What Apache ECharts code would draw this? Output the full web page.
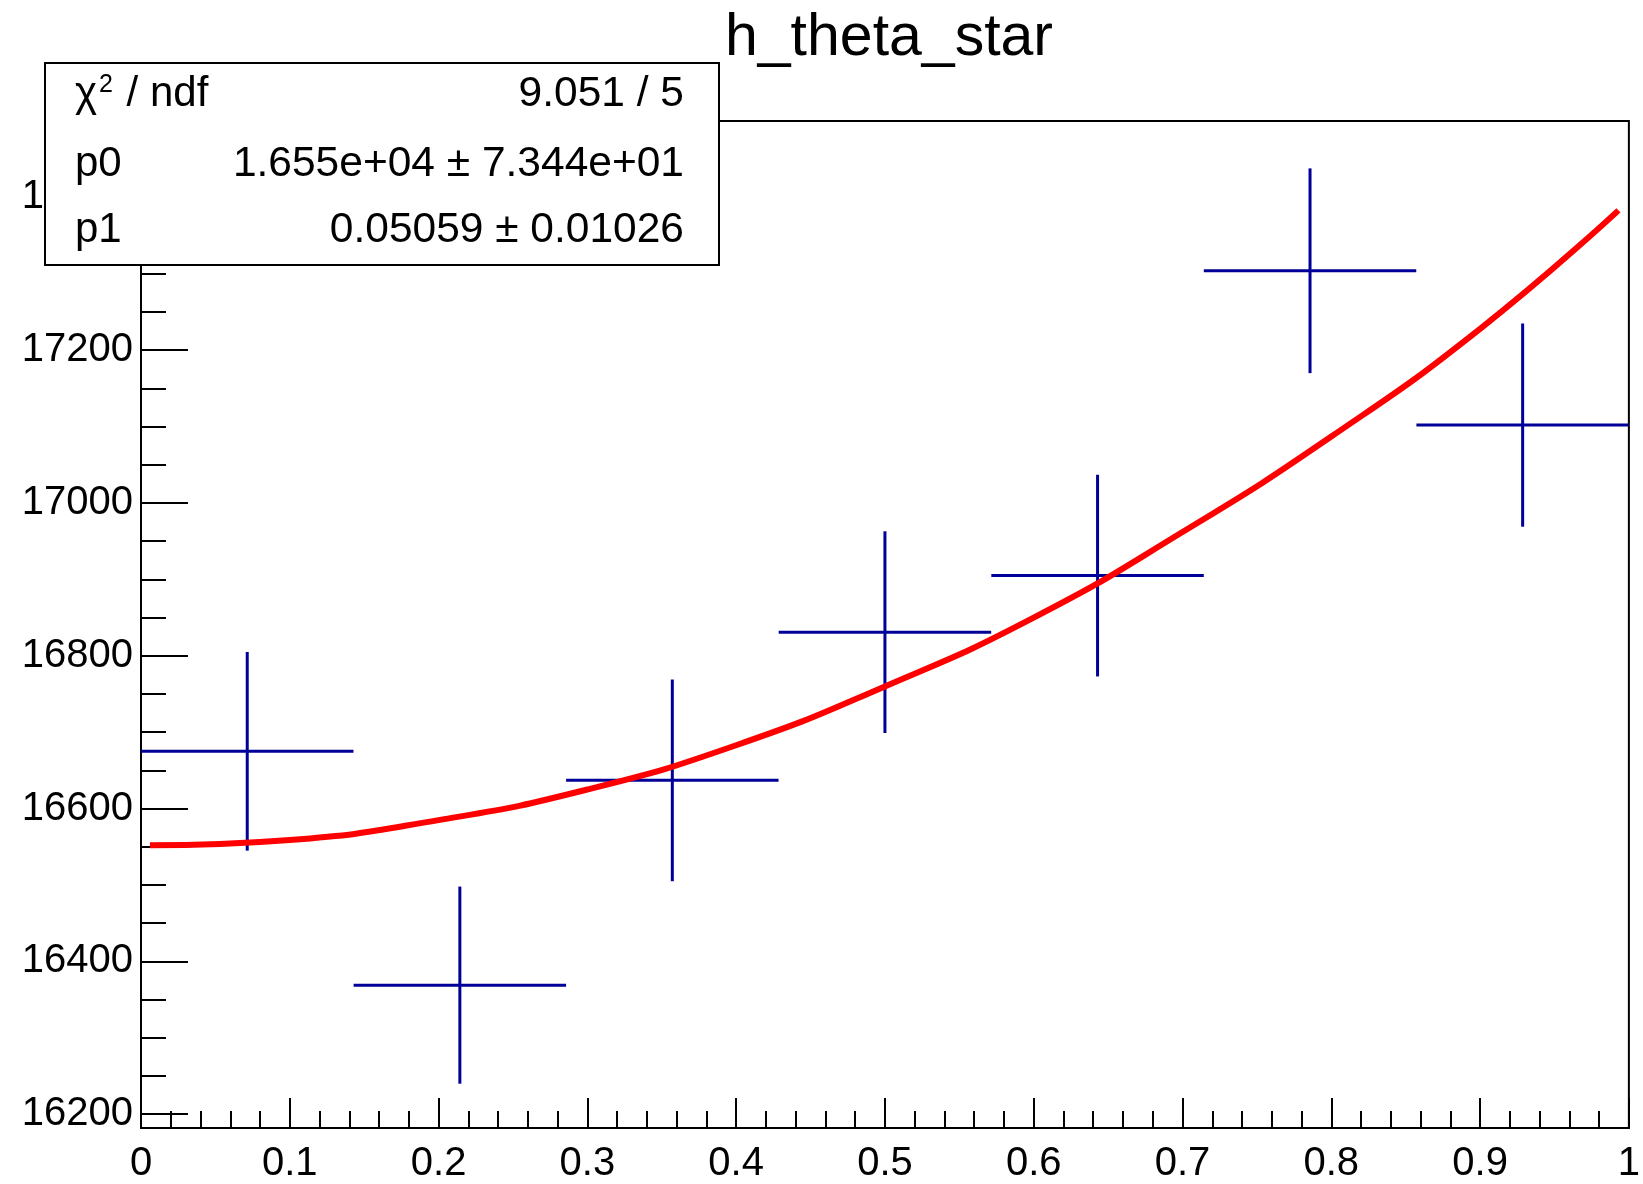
<!DOCTYPE html>
<html>
<head>
<meta charset="utf-8">
<title>h_theta_star</title>
<script src="https://cdn.jsdelivr.net/npm/echarts@6.0.0/dist/echarts.min.js"></script>
<style>
  html, body { margin: 0; padding: 0; background: #fff; }
  #chart { width: 1643px; height: 1184px; }
</style>
</head>
<body>
<div id="chart"></div>
<script>
// histogram: 7 bins over 0..1
const binCenters = [0.0714, 0.2143, 0.3571, 0.5, 0.6429, 0.7857, 0.9286]
const binHalfWidth = [0.0714, 0.0714, 0.0714, 0.0714, 0.0714, 0.0714, 0.0714]
const binContents = [16675, 16369, 16637, 16831, 16905, 17304, 17102]
const binErrors = [130, 129, 132, 132, 132, 134, 133]

// red fit curve
const fitX = [0.006, 0.1, 0.2, 0.3, 0.4, 0.5, 0.6, 0.7, 0.8, 0.9, 0.993]
const fitY = [16552, 16559, 16585, 16625, 16683, 16760, 16850, 16962, 17087, 17228, 17383]

// axes
const yMajorTicks = [16200, 16400, 16600, 16800, 17000, 17200, 17400]
const yRange = [16182, 17500]

// stat box
const statLabels = ['{a|χ}{s|2}{a| / ndf}', 'p0', 'p1']
const statValues = ['9.051 / 5', '1.655e+04 ± 7.344e+01', '0.05059 ± 0.01026']

const FONT = '"Liberation Sans", Arial, Helvetica, sans-serif'

// minor tick positions between min and max
const steps = (from, to, step) => {
  const out = []
  for (let v = from; v <= to + 1e-9; v += step) out.push(Math.round(v * 1000) / 1000)
  return out
}

const chart = echarts.init(document.getElementById('chart'))

const errData = binCenters.map((c, i) => [c, binContents[i], binErrors[i], binHalfWidth[i]])

const statGraphics = []
const rowY = [94, 164, 230]
statLabels.forEach((t, i) => {
  statGraphics.push({
    type: 'text',
    x: 75,
    y: rowY[i],
    z: 101,
    style: {
      text: t,
      font: `42px ${FONT}`,
      fill: '#000',
      verticalAlign: 'middle',
      rich: {
        a: { fontSize: 42, fontFamily: FONT, fill: '#000' },
        s: { fontSize: 25, fontFamily: FONT, fill: '#000', verticalAlign: 'top', padding: [0, 2, 18, 2] },
      },
    },
  })
  statGraphics.push({
    type: 'text',
    x: 684,
    y: rowY[i],
    z: 101,
    style: {
      text: statValues[i],
      font: `42.5px ${FONT}`,
      fill: '#000',
      align: 'right',
      verticalAlign: 'middle',
    },
  })
})

const option = {
  animation: false,
  backgroundColor: '#fff',
  title: {
    text: 'h_theta_star',
    left: 884,
    top: 4,
    textAlign: 'center',
    textStyle: { fontFamily: FONT, fontSize: 59, fontWeight: 'normal', color: '#000' },
  },
  grid: {
    left: 141,
    right: 8,
    top: 121,
    bottom: 51,
    show: true,
    borderColor: '#000',
    borderWidth: 2,
    backgroundColor: 'transparent',
  },
  xAxis: {
    type: 'value',
    min: 0,
    max: 1,
    interval: 0.1,
    axisLine: { show: true, onZero: false, lineStyle: { color: '#000', width: 2 } },
    axisTick: { show: true, inside: true, length: 30, lineStyle: { color: '#000', width: 2 } },
    minorTick: { show: true, splitNumber: 5, length: 17, lineStyle: { color: '#000', width: 2 } },
    splitLine: { show: false },
    axisLabel: { fontFamily: FONT, fontSize: 40, color: '#000', margin: 16 },
  },
  yAxis: [
    {
      type: 'value',
      min: yRange[0],
      max: yRange[1],
      axisLine: { show: true, onZero: false, lineStyle: { color: '#000', width: 2 } },
      axisTick: { show: true, inside: true, length: 47, customValues: yMajorTicks, lineStyle: { color: '#000', width: 2 } },
      splitLine: { show: false },
      axisLabel: {
        fontFamily: FONT,
        fontSize: 40,
        color: '#000',
        margin: 8,
        customValues: yMajorTicks,
        formatter: (v) => String(v),
      },
    },
    {
      type: 'value',
      min: yRange[0],
      max: yRange[1],
      position: 'left',
      axisLine: { show: false },
      axisTick: { show: true, inside: true, length: 25, customValues: steps(16200, 17450, 50), lineStyle: { color: '#000', width: 2 } },
      splitLine: { show: false },
      axisLabel: { show: false },
    },
  ],
  series: [
    {
      name: 'h_theta_star',
      type: 'custom',
      z: 3,
      data: errData,
      renderItem: (params, api) => {
        const x = api.value(0)
        const y = api.value(1)
        const e = api.value(2)
        const hw = api.value(3)
        const left = api.coord([x - hw, y])
        const right = api.coord([x + hw, y])
        const top = api.coord([x, y + e])
        const bottom = api.coord([x, y - e])
        const style = { stroke: '#000099', lineWidth: 3 }
        return {
          type: 'group',
          children: [
            { type: 'line', shape: { x1: left[0], y1: left[1], x2: right[0], y2: right[1] }, style },
            { type: 'line', shape: { x1: top[0], y1: top[1], x2: bottom[0], y2: bottom[1] }, style },
          ],
        }
      },
    },
    {
      name: 'fit',
      type: 'line',
      z: 4,
      smooth: true,
      showSymbol: false,
      data: fitX.map((x, i) => [x, fitY[i]]),
      lineStyle: { color: '#ff0000', width: 6 },
    },
  ],
  graphic: [
    {
      type: 'rect',
      z: 100,
      shape: { x: 45, y: 63, width: 674, height: 202 },
      style: { fill: '#fff', stroke: '#000', lineWidth: 2 },
    },
    ...statGraphics,
  ],
}

chart.setOption(option)
</script>
</body>
</html>
